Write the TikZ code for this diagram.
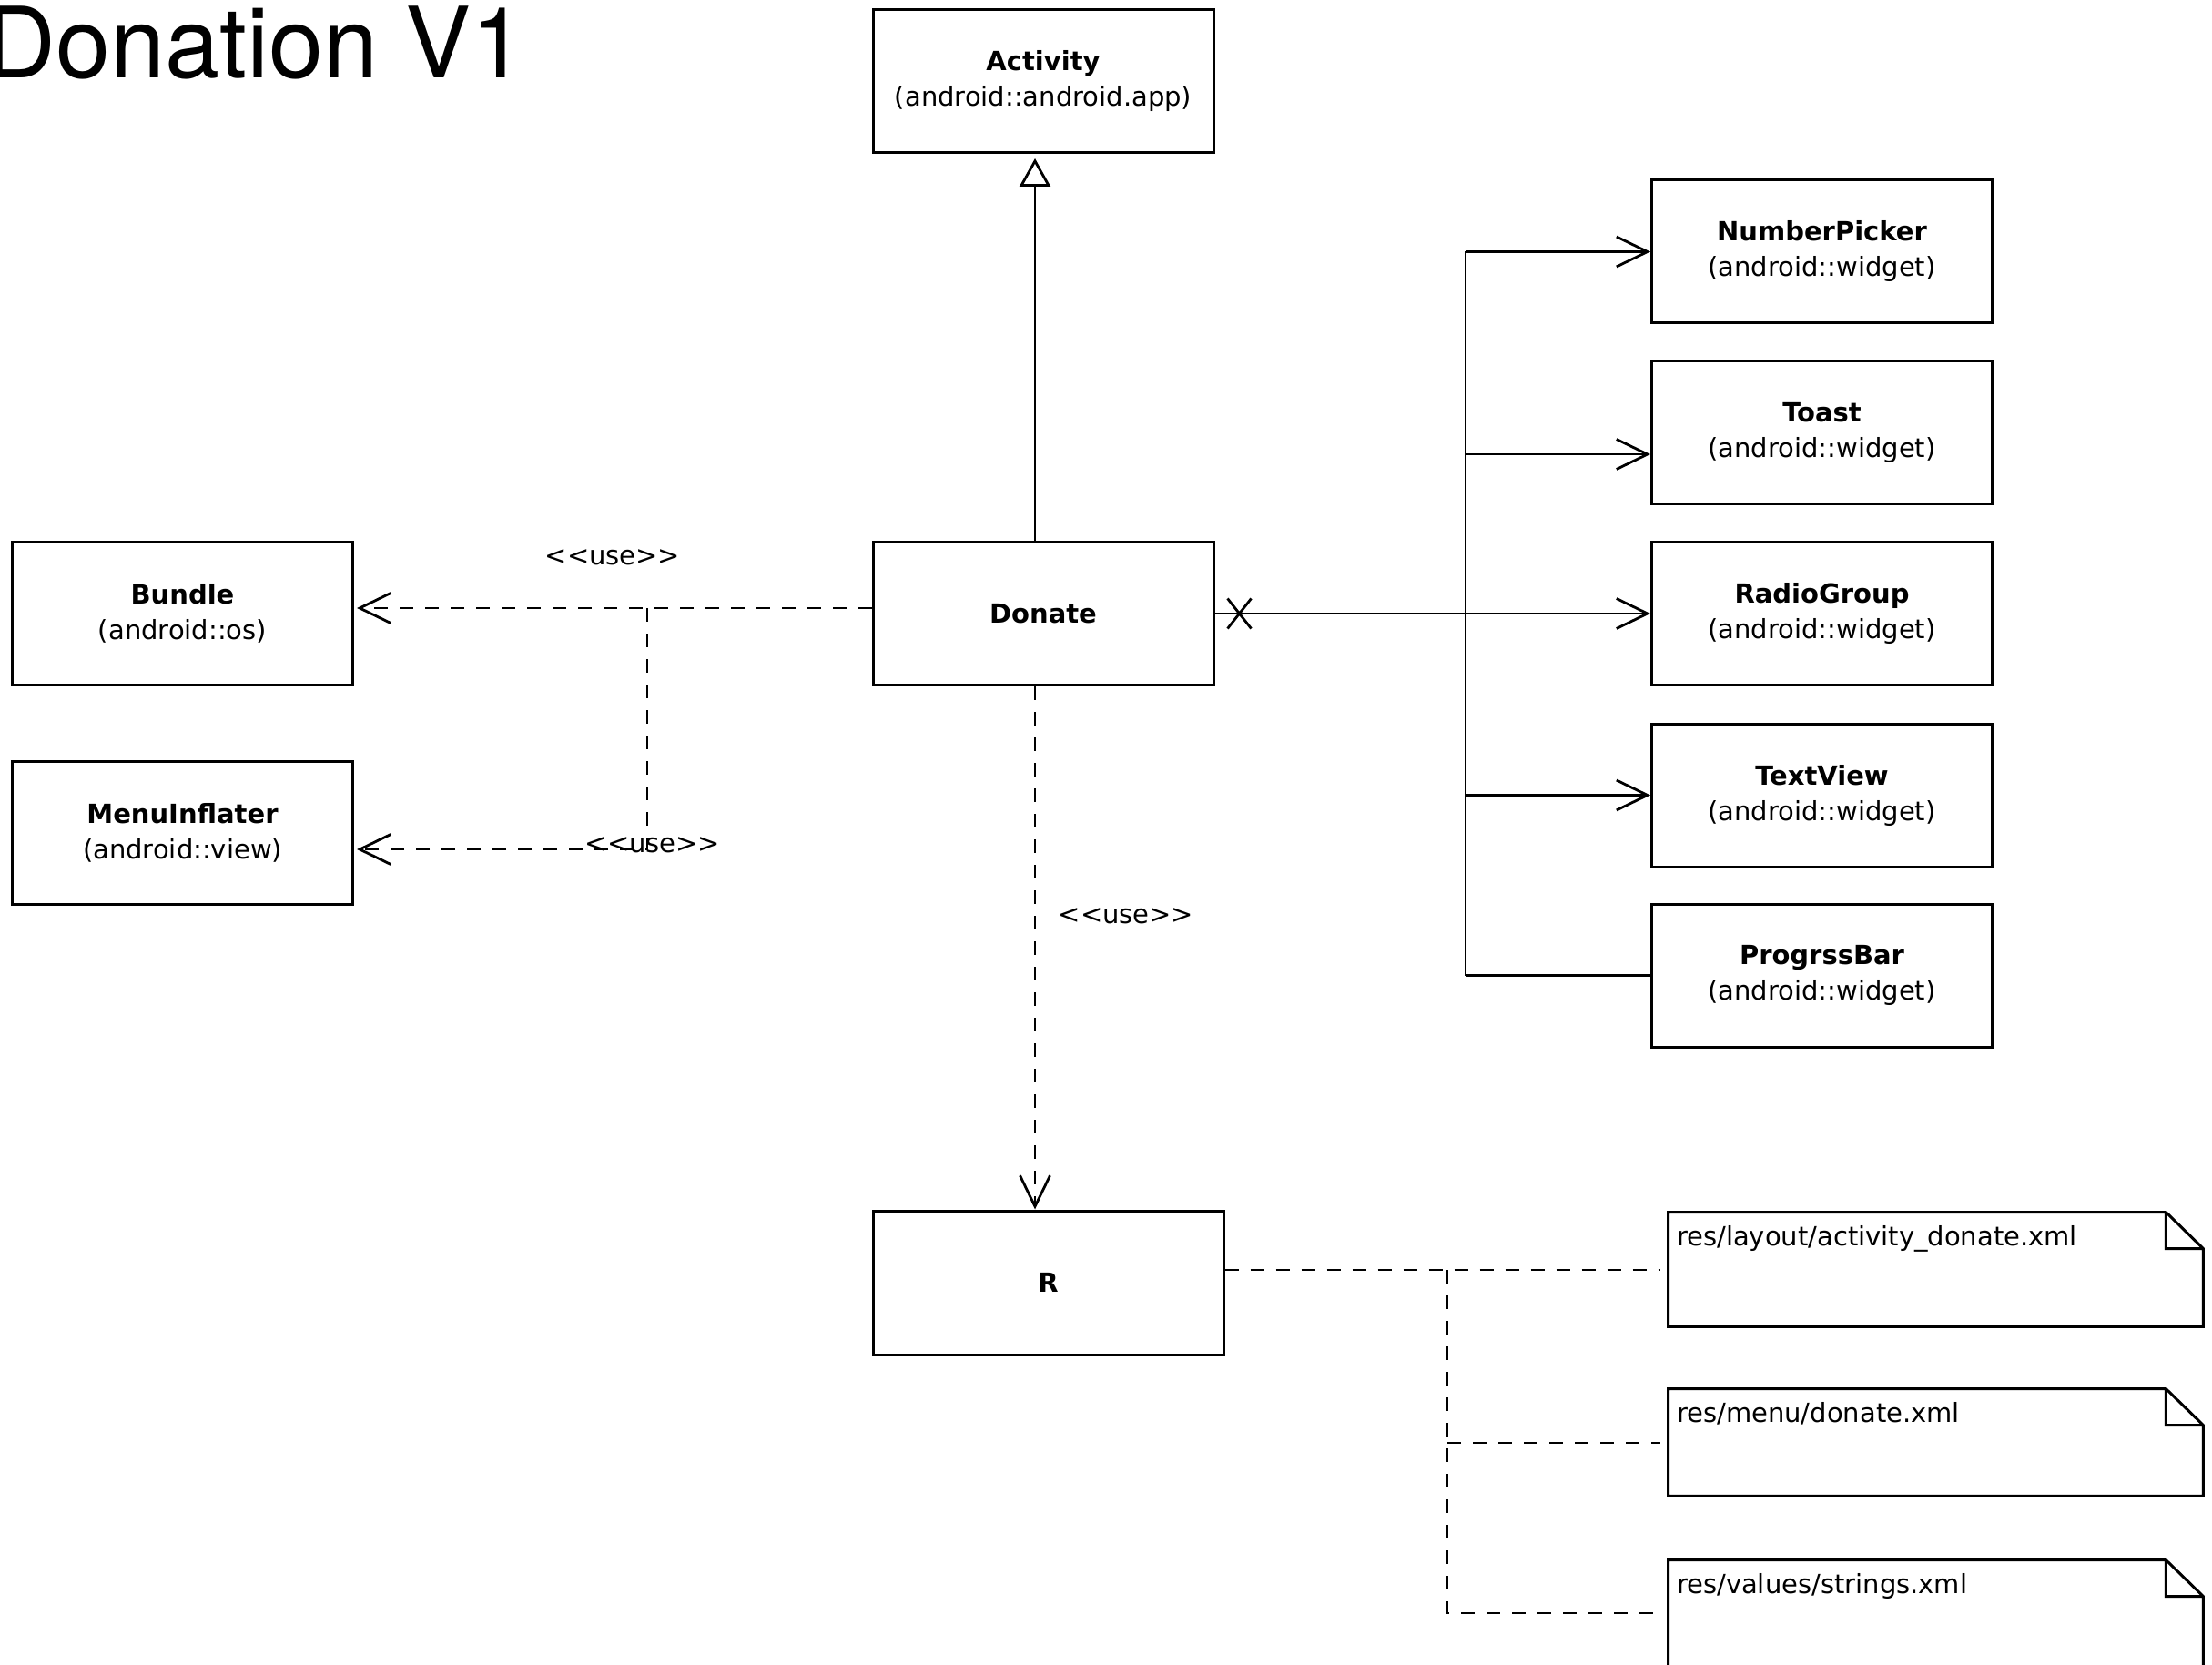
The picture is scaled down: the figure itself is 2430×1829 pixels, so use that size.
\documentclass[tikz,border=0pt]{standalone}
\usepackage{fontspec}
\setmainfont{DejaVu Sans}
\newfontfamily\titlefont{TeX Gyre Heros}
\usetikzlibrary{arrows.meta,calc}
\begin{document}
\begin{tikzpicture}[x=0.5pt,y=-0.5pt,
  font=\fontsize{14.5}{19.5}\selectfont,
  classbox/.style={draw, line width=1.5pt, minimum width=187pt, minimum height=78.5pt, align=center, inner sep=0pt},
  notebox/.style={minimum width=293.5pt, inner sep=0pt},
  conn/.style={line width=1.4pt},
  dep/.style={conn, dash pattern=on 7.5pt off 6.5pt},
  barb/.style={-{Straight Barb[length=17pt,width=16.5pt,line width=1.4pt]}},
  gen/.style={-{Triangle[open,length=15.5pt,width=17pt,line width=1.4pt]}},
  notetext/.style={anchor=base west, inner sep=0pt},
  uselabel/.style={inner sep=0pt}
]
\useasboundingbox (0,0) rectangle (2430,1829);
\fill[white] (0,0) rectangle (2430,1829);

% title
\node[anchor=base west, inner sep=0pt, font=\titlefont\fontsize{54}{60}\selectfont] (title) at (-17,86) {Donation V1};

% class boxes
\node[classbox] (activity) at (1146,89) {\textbf{Activity}\\(android::android.app)};
\node[classbox] (donate) at (1146,674) {\textbf{Donate}};
\node[classbox] (bundle) at (200.5,674) {\textbf{Bundle}\\(android::os)};
\node[classbox] (menu) at (200.5,915) {\textbf{MenuInflater}\\(android::view)};
\node[classbox] (np) at (2001.5,276.5) {\textbf{NumberPicker}\\(android::widget)};
\node[classbox] (toast) at (2001.5,475) {\textbf{Toast}\\(android::widget)};
\node[classbox] (rg) at (2001.5,674) {\textbf{RadioGroup}\\(android::widget)};
\node[classbox] (tv) at (2001.5,873.5) {\textbf{TextView}\\(android::widget)};
\node[classbox] (pb) at (2001.5,1071.5) {\textbf{ProgrssBar}\\(android::widget)};
\node[classbox, minimum width=192.5pt, minimum height=79pt] (r) at (1151.5,1409) {\textbf{R}};

% notes
\node[notebox, minimum height=62.5pt] (n1) at (2126.5,1394.5) {};
\node[notebox, minimum height=58.5pt] (n2) at (2126.5,1584.5) {};
\node[notebox, minimum height=93pt] (n3) at (2126.5,1807) {};
\foreach \n in {n1,n2,n3}{
  \draw[line width=1.5pt, line join=miter]
    (\n.north west) -- ($(\n.north east)+(-41,0)$) -- ($(\n.north east)+(0,40)$)
    -- (\n.south east) -- (\n.south west) -- cycle
    ($(\n.north east)+(-41,0)$) -- ($(\n.north east)+(-41,40)$) -- ($(\n.north east)+(0,40)$);
}
\node[notetext] (t1) at ($(n1.north west)+(9,37)$) {res/layout/activity\_donate.xml};
\node[notetext] (t2) at ($(n2.north west)+(9,37)$) {res/menu/donate.xml};
\node[notetext] (t3) at ($(n3.north west)+(9,37)$) {res/values/strings.xml};

% helper coordinates
\coordinate (gx) at (1137,0);
\coordinate (yb) at (0,668);
\coordinate (ym) at (0,933);
\coordinate (bx) at (711,668);
\coordinate (tx) at (1610,0);
\coordinate (toasty) at (0,499);
\coordinate (rx) at (1590,0);
\coordinate (ry) at (0,1395);
\coordinate (n2y) at (0,1585);
\coordinate (n3y) at (0,1772);

% generalization
\draw[conn, gen, shorten >=2.5pt] (donate.north -| gx) -- (activity.south -| gx);

% dependencies
\draw[dep, barb, shorten >=1.5pt] (donate.west |- yb) -- (bundle.east |- yb);
\draw[dep, barb, shorten >=1.5pt] (bx) -- (bx |- ym) -- (menu.east |- ym);
\draw[dep, barb] (donate.south -| gx) -- (r.north -| gx);

\node[uselabel] (u1) at (673,612) {<\kern0pt<use>\kern0pt>};
\node[uselabel] (u2) at (717,928) {<\kern0pt<use>\kern0pt>};
\node[uselabel] (u3) at (1237,1006) {<\kern0pt<use>\kern0pt>};

% associations to widgets
\draw[conn, barb] (donate.east) -- (rg.west);
\draw[conn] ($(donate.east)+(14,-16.5)$) -- ++(26,33)
            ($(donate.east)+(14,16.5)$) -- ++(26,-33);
\draw[conn] (np.west -| tx) -- (pb.west -| tx);
\draw[conn, barb] (np.west -| tx) -- (np.west);
\draw[conn, barb] (tx |- toasty) -- (toast.west |- toasty);
\draw[conn, barb] (tv.west -| tx) -- (tv.west);
\draw[conn] (pb.west -| tx) -- (pb.west);

% R to resource notes
\draw[dep] (r.east |- ry) -- ($(n1.west |- ry)+(-9,0)$);
\draw[dep] (rx |- ry) -- (rx |- n3y) -- ($(n3.west |- n3y)+(-9,0)$);
\draw[dep] (rx |- n2y) -- ($(n2.west |- n2y)+(-9,0)$);
\end{tikzpicture}
\end{document}
